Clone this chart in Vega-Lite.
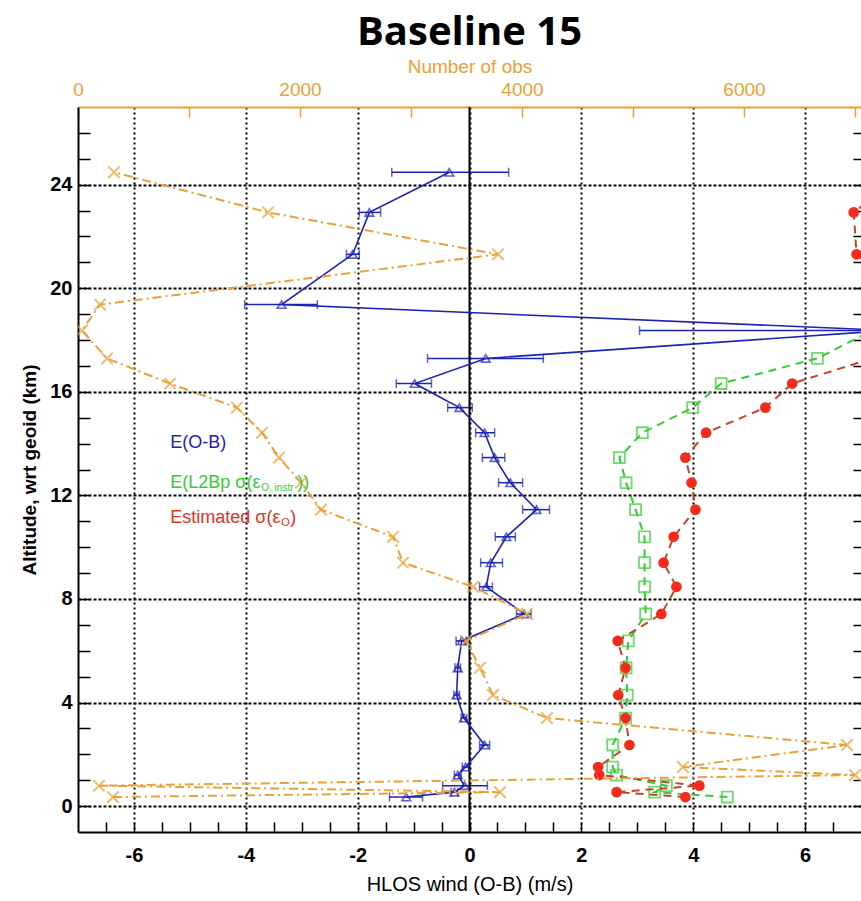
{
  "$schema": "https://vega.github.io/schema/vega-lite/v6.json",
  "autosize": {"type": "none"},
  "padding": {"left": 78, "top": 107, "right": 0, "bottom": 69},
  "width": 783,
  "height": 725,
  "background": "white",
  "title": {"text": "Baseline 15", "font": "Open Sans", "fontSize": 40, "fontWeight": "bold", "color": "black", "anchor": "middle", "baseline": "alphabetic", "offset": -28},
  "config": {
    "view": {"stroke": null},
    "font": "Liberation Sans",
    "axis": {"labelFont": "Liberation Sans", "titleFont": "Liberation Sans", "labelOverlap": false, "labelFlush": false}
  },
  "datasets": {
    "prof": [
      {"alt": 24.48, "obs": 324, "ob": -0.36, "lo": -1.39, "hi": 0.70, "l2b": null, "est": 7.8},
      {"alt": 22.93, "obs": 1712, "ob": -1.79, "lo": -1.97, "hi": -1.59, "l2b": null, "est": 6.87},
      {"alt": 21.31, "obs": 3784, "ob": -2.09, "lo": -2.2, "hi": -1.97, "l2b": null, "est": 6.92},
      {"alt": 19.37, "obs": 198, "ob": -3.36, "lo": -4.02, "hi": -2.72, "l2b": null, "est": 8.0},
      {"alt": 18.37, "obs": 36, "ob": 7.5, "lo": 3.04, "hi": 11.96, "l2b": 7.2, "est": 8.5},
      {"alt": 17.29, "obs": 261, "ob": 0.29, "lo": -0.75, "hi": 1.32, "l2b": 6.22, "est": 7.2},
      {"alt": 16.32, "obs": 829, "ob": -0.98, "lo": -1.31, "hi": -0.68, "l2b": 4.5, "est": 5.77},
      {"alt": 15.39, "obs": 1432, "ob": -0.18, "lo": -0.39, "hi": 0.05, "l2b": 3.99, "est": 5.29},
      {"alt": 14.42, "obs": 1658, "ob": 0.27, "lo": 0.11, "hi": 0.45, "l2b": 3.09, "est": 4.23},
      {"alt": 13.46, "obs": 1811, "ob": 0.45, "lo": 0.23, "hi": 0.63, "l2b": 2.68, "est": 3.86},
      {"alt": 12.49, "obs": 2009, "ob": 0.73, "lo": 0.52, "hi": 0.95, "l2b": 2.8, "est": 3.97},
      {"alt": 11.45, "obs": 2189, "ob": 1.2, "lo": 0.95, "hi": 1.43, "l2b": 2.97, "est": 4.04},
      {"alt": 10.4, "obs": 2838, "ob": 0.66, "lo": 0.46, "hi": 0.82, "l2b": 3.13, "est": 3.65},
      {"alt": 9.4, "obs": 2928, "ob": 0.38, "lo": 0.2, "hi": 0.59, "l2b": 3.13, "est": 3.47},
      {"alt": 8.47, "obs": 3559, "ob": 0.30, "lo": 0.18, "hi": 0.41, "l2b": 3.13, "est": 3.7},
      {"alt": 7.42, "obs": 4045, "ob": 0.98, "lo": 0.84, "hi": 1.1, "l2b": 3.15, "est": 3.43},
      {"alt": 6.38, "obs": 3495, "ob": -0.14, "lo": -0.24, "hi": -0.06, "l2b": 2.84, "est": 2.65},
      {"alt": 5.34, "obs": 3622, "ob": -0.21, "lo": -0.26, "hi": -0.16, "l2b": 2.8, "est": 2.79},
      {"alt": 4.29, "obs": 3739, "ob": -0.23, "lo": -0.28, "hi": -0.18, "l2b": 2.82, "est": 2.66},
      {"alt": 3.4, "obs": 4225, "ob": -0.1, "lo": -0.15, "hi": -0.05, "l2b": 2.79, "est": 2.79},
      {"alt": 2.36, "obs": 6928, "ob": 0.27, "lo": 0.18, "hi": 0.36, "l2b": 2.56, "est": 2.86},
      {"alt": 1.51, "obs": 5450, "ob": -0.07, "lo": -0.13, "hi": -0.01, "l2b": 2.56, "est": 2.3},
      {"alt": 1.2, "obs": 7000, "ob": -0.21, "lo": -0.27, "hi": -0.15, "l2b": 2.63, "est": 2.32},
      {"alt": 0.79, "obs": 189, "ob": -0.09, "lo": -0.48, "hi": 0.32, "l2b": 3.52, "est": 4.11},
      {"alt": 0.54, "obs": 3802, "ob": -0.27, "lo": -0.33, "hi": -0.21, "l2b": 3.31, "est": 2.63},
      {"alt": 0.35, "obs": 315, "ob": -1.13, "lo": -1.43, "hi": -0.84, "l2b": 4.61, "est": 3.86}
    ]
  },
  "resolve": {"scale": {"x": "independent"}, "axis": {"x": "independent", "y": "independent"}},
  "layer": [
    {
      "data": {"name": "prof"},
      "mark": {"type": "rule", "color": "#1c23b5", "strokeWidth": 1.5, "clip": true},
      "encoding": {
        "y": {
          "field": "alt", "type": "quantitative",
          "scale": {"domain": [-1, 27], "nice": false, "zero": false},
          "axis": {
            "orient": "left",
            "values": [0,1,2,3,4,5,6,7,8,9,10,11,12,13,14,15,16,17,18,19,20,21,22,23,24,25,26],
            "labelExpr": "datum.value % 4 === 0 ? '' + datum.value : ''",
            "labelFontSize": 20, "labelFontWeight": "bold", "labelColor": "black", "labelPadding": 18,
            "tickSize": -12, "tickColor": "black", "tickWidth": 1.5,
            "domainColor": "black", "domainWidth": 2,
            "grid": true, "gridColor": "black", "gridWidth": 2, "gridDash": [3, 2],
            "gridOpacity": {"condition": {"test": "datum.value % 4 === 0", "value": 1}, "value": 0},
            "title": "Altitude, wrt geoid (km)", "titleFontSize": 19, "titleFontWeight": "bold", "titleColor": "black", "titlePadding": 10
          }
        },
        "x": {
          "field": "lo", "type": "quantitative",
          "scale": {"domain": [-7, 7], "nice": false, "zero": false},
          "axis": {
            "orient": "bottom",
            "values": [-6.5,-6,-5.5,-5,-4.5,-4,-3.5,-3,-2.5,-2,-1.5,-1,-0.5,0,0.5,1,1.5,2,2.5,3,3.5,4,4.5,5,5.5,6,6.5],
            "labelExpr": "datum.value % 2 === 0 ? '' + datum.value : ''",
            "labelFontSize": 20, "labelFontWeight": "bold", "labelColor": "black", "labelPadding": 23,
            "tickSize": -10, "tickColor": "black", "tickWidth": 1.5,
            "domainColor": "black", "domainWidth": 2,
            "grid": true, "gridColor": "black", "gridWidth": 2, "gridDash": [2, 3],
            "gridOpacity": {"condition": {"test": "datum.value % 2 === 0", "value": 1}, "value": 0},
            "title": "HLOS wind (O-B) (m/s)", "titleFontSize": 20, "titleFontWeight": "normal", "titleColor": "black", "titlePadding": 9
          }
        },
        "x2": {"field": "hi"}
      }
    },
    {
      "data": {"values": [{"k": 1}]},
      "mark": {"type": "rule", "color": "black", "strokeWidth": 2},
      "encoding": {"x": {"datum": 0, "type": "quantitative", "scale": {"domain": [-7, 7], "nice": false, "zero": false}, "axis": null}}
    },
    {
      "data": {"name": "prof"},
      "mark": {"type": "tick", "orient": "vertical", "color": "#1c23b5", "thickness": 1.5, "size": 9, "clip": true},
      "encoding": {
        "x": {"field": "lo", "type": "quantitative", "scale": {"domain": [-7, 7], "nice": false, "zero": false}, "axis": null},
        "y": {"field": "alt", "type": "quantitative", "scale": {"domain": [-1, 27], "nice": false, "zero": false}, "axis": null}
      }
    },
    {
      "data": {"name": "prof"},
      "mark": {"type": "tick", "orient": "vertical", "color": "#1c23b5", "thickness": 1.5, "size": 9, "clip": true},
      "encoding": {
        "x": {"field": "hi", "type": "quantitative", "scale": {"domain": [-7, 7], "nice": false, "zero": false}, "axis": null},
        "y": {"field": "alt", "type": "quantitative", "scale": {"domain": [-1, 27], "nice": false, "zero": false}, "axis": null}
      }
    },
    {
      "data": {"name": "prof"},
      "mark": {"type": "line", "color": "#1c23b5", "strokeWidth": 1.6, "clip": true},
      "encoding": {
        "x": {"field": "ob", "type": "quantitative", "scale": {"domain": [-7, 7], "nice": false, "zero": false}, "axis": null},
        "y": {"field": "alt", "type": "quantitative", "scale": {"domain": [-1, 27], "nice": false, "zero": false}, "axis": null},
        "order": {"field": "alt", "type": "quantitative"}
      }
    },
    {
      "data": {"name": "prof"},
      "mark": {"type": "point", "shape": "triangle-up", "filled": false, "color": "#1c23b5", "strokeWidth": 1.6, "size": 75, "clip": true},
      "encoding": {
        "x": {"field": "ob", "type": "quantitative", "scale": {"domain": [-7, 7], "nice": false, "zero": false}, "axis": null},
        "y": {"field": "alt", "type": "quantitative", "scale": {"domain": [-1, 27], "nice": false, "zero": false}, "axis": null}
      }
    },
    {
      "data": {"name": "prof"},
      "mark": {"type": "line", "color": "#33cc33", "strokeWidth": 2, "strokeDash": [8, 6], "clip": true},
      "encoding": {
        "x": {"field": "l2b", "type": "quantitative", "scale": {"domain": [-7, 7], "nice": false, "zero": false}, "axis": null},
        "y": {"field": "alt", "type": "quantitative", "scale": {"domain": [-1, 27], "nice": false, "zero": false}, "axis": null},
        "order": {"field": "alt", "type": "quantitative"}
      }
    },
    {
      "data": {"name": "prof"},
      "mark": {"type": "point", "shape": "square", "filled": false, "color": "#33cc33", "strokeWidth": 1.8, "size": 120, "clip": true},
      "encoding": {
        "x": {"field": "l2b", "type": "quantitative", "scale": {"domain": [-7, 7], "nice": false, "zero": false}, "axis": null},
        "y": {"field": "alt", "type": "quantitative", "scale": {"domain": [-1, 27], "nice": false, "zero": false}, "axis": null}
      }
    },
    {
      "data": {"name": "prof"},
      "mark": {"type": "line", "color": "#c8432c", "strokeWidth": 2, "strokeDash": [8, 6], "clip": true},
      "encoding": {
        "x": {"field": "est", "type": "quantitative", "scale": {"domain": [-7, 7], "nice": false, "zero": false}, "axis": null},
        "y": {"field": "alt", "type": "quantitative", "scale": {"domain": [-1, 27], "nice": false, "zero": false}, "axis": null},
        "order": {"field": "alt", "type": "quantitative"}
      }
    },
    {
      "data": {"name": "prof"},
      "mark": {"type": "point", "shape": "circle", "filled": true, "color": "#f52a1a", "opacity": 1, "size": 115, "clip": true},
      "encoding": {
        "x": {"field": "est", "type": "quantitative", "scale": {"domain": [-7, 7], "nice": false, "zero": false}, "axis": null},
        "y": {"field": "alt", "type": "quantitative", "scale": {"domain": [-1, 27], "nice": false, "zero": false}, "axis": null}
      }
    },
    {
      "data": {"name": "prof"},
      "mark": {"type": "line", "color": "#eba035", "strokeWidth": 2, "strokeDash": [9, 4, 2, 4], "clip": true},
      "encoding": {
        "x": {"field": "obs", "type": "quantitative", "scale": {"domain": [0, 7054], "nice": false, "zero": false}, "axis": null},
        "y": {"field": "alt", "type": "quantitative", "scale": {"domain": [-1, 27], "nice": false, "zero": false}, "axis": null},
        "order": {"field": "alt", "type": "quantitative"}
      }
    },
    {
      "data": {"name": "prof"},
      "mark": {"type": "point", "shape": "M-1,-1L1,1M-1,1L1,-1", "filled": false, "color": "#eba035", "strokeWidth": 2, "size": 130, "clip": true},
      "encoding": {
        "y": {
          "field": "alt", "type": "quantitative",
          "scale": {"domain": [-1, 27], "nice": false, "zero": false},
          "axis": {
            "orient": "right",
            "values": [0,1,2,3,4,5,6,7,8,9,10,11,12,13,14,15,16,17,18,19,20,21,22,23,24,25,26],
            "labels": false, "domain": false, "grid": false,
            "tickSize": -8, "tickColor": "black", "tickWidth": 1.5, "title": null
          }
        },
        "x": {
          "field": "obs", "type": "quantitative",
          "scale": {"domain": [0, 7054], "nice": false, "zero": false},
          "axis": {
            "orient": "top",
            "values": [0, 1000, 2000, 3000, 4000, 5000, 6000, 7000],
            "labelExpr": "datum.value % 2000 === 0 ? '' + datum.value : ''",
            "labelFontSize": 19, "labelColor": "#eba035", "labelPadding": 18,
            "tickSize": -10, "tickColor": "#eba035", "tickWidth": 1.5,
            "domainColor": "#eba035", "domainWidth": 2, "grid": false,
            "title": "Number of obs", "titleFontSize": 19, "titleFontWeight": "normal", "titleColor": "#eba035", "titlePadding": 4
          }
        }
      }
    },
    {
      "data": {"values": [{"k": 1}]},
      "mark": {"type": "text", "align": "left", "baseline": "middle", "fontSize": 18, "color": "#1c23b5", "text": "E(O-B)"},
      "encoding": {
        "x": {"datum": -5.35, "type": "quantitative", "scale": {"domain": [-7, 7], "nice": false, "zero": false}, "axis": null},
        "y": {"datum": 14.02, "type": "quantitative", "scale": {"domain": [-1, 27], "nice": false, "zero": false}, "axis": null}
      }
    },
    {
      "data": {"values": [{"k": 1}]},
      "mark": {"type": "text", "align": "left", "baseline": "middle", "fontSize": 18, "color": "#33cc33", "text": "E(L2Bp σ(ε"},
      "encoding": {
        "x": {"datum": -5.35, "type": "quantitative", "scale": {"domain": [-7, 7], "nice": false, "zero": false}, "axis": null},
        "y": {"datum": 12.48, "type": "quantitative", "scale": {"domain": [-1, 27], "nice": false, "zero": false}, "axis": null}
      }
    },
    {
      "data": {"values": [{"k": 1}]},
      "mark": {"type": "text", "align": "left", "baseline": "middle", "fontSize": 10, "color": "#33cc33", "dx": 91, "dy": 5, "text": "O, instr"},
      "encoding": {
        "x": {"datum": -5.35, "type": "quantitative", "scale": {"domain": [-7, 7], "nice": false, "zero": false}, "axis": null},
        "y": {"datum": 12.48, "type": "quantitative", "scale": {"domain": [-1, 27], "nice": false, "zero": false}, "axis": null}
      }
    },
    {
      "data": {"values": [{"k": 1}]},
      "mark": {"type": "text", "align": "left", "baseline": "middle", "fontSize": 18, "color": "#33cc33", "dx": 127, "text": "))"},
      "encoding": {
        "x": {"datum": -5.35, "type": "quantitative", "scale": {"domain": [-7, 7], "nice": false, "zero": false}, "axis": null},
        "y": {"datum": 12.48, "type": "quantitative", "scale": {"domain": [-1, 27], "nice": false, "zero": false}, "axis": null}
      }
    },
    {
      "data": {"values": [{"k": 1}]},
      "mark": {"type": "text", "align": "left", "baseline": "middle", "fontSize": 18, "color": "#e0321e", "text": "Estimated σ(ε"},
      "encoding": {
        "x": {"datum": -5.35, "type": "quantitative", "scale": {"domain": [-7, 7], "nice": false, "zero": false}, "axis": null},
        "y": {"datum": 11.12, "type": "quantitative", "scale": {"domain": [-1, 27], "nice": false, "zero": false}, "axis": null}
      }
    },
    {
      "data": {"values": [{"k": 1}]},
      "mark": {"type": "text", "align": "left", "baseline": "middle", "fontSize": 11, "color": "#e0321e", "dx": 111, "dy": 5, "text": "O"},
      "encoding": {
        "x": {"datum": -5.35, "type": "quantitative", "scale": {"domain": [-7, 7], "nice": false, "zero": false}, "axis": null},
        "y": {"datum": 11.12, "type": "quantitative", "scale": {"domain": [-1, 27], "nice": false, "zero": false}, "axis": null}
      }
    },
    {
      "data": {"values": [{"k": 1}]},
      "mark": {"type": "text", "align": "left", "baseline": "middle", "fontSize": 18, "color": "#e0321e", "dx": 120, "text": ")"},
      "encoding": {
        "x": {"datum": -5.35, "type": "quantitative", "scale": {"domain": [-7, 7], "nice": false, "zero": false}, "axis": null},
        "y": {"datum": 11.12, "type": "quantitative", "scale": {"domain": [-1, 27], "nice": false, "zero": false}, "axis": null}
      }
    }
  ]
}
